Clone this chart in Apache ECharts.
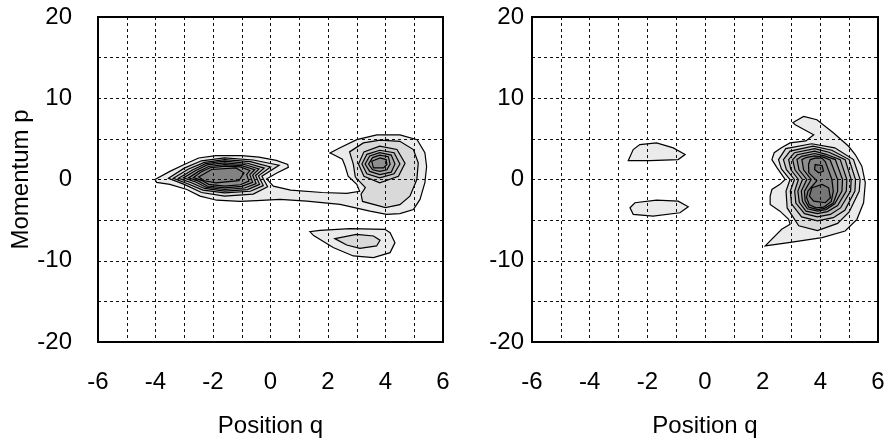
<!DOCTYPE html>
<html><head><meta charset="utf-8">
<script src="https://cdn.jsdelivr.net/npm/echarts@6/dist/echarts.min.js"></script>
<style>html,body{margin:0;padding:0;background:#fff}#c{width:888px;height:443px}</style>
</head><body><div id="c"></div>
<script>
// Axis ticks
const xTicks = [-6, -4, -2, 0, 2, 4, 6];
const yTicks = [-20, -10, 0, 10, 20];
const xTitle = 'Position q';
const yTitle = 'Momentum p';
// Fill for contour level 1 (outermost) .. 9 (innermost)
const levelColors = ['#ebebeb','#d9d9d9','#c8c8c8','#b8b8b8','#a9a9a9','#9b9b9b','#8e8e8e','#828282','#767676'];

// ---------- Left panel: contour vertices [q, p] ----------
// level 1: connected region (left blob + tail + right blob)
const leftOuter = [[-4.02,0.0],[-3.5,1.0],[-3.0,1.85],[-2.5,2.65],[-1.9,2.95],[-1.0,2.95],[-0.4,2.75],[0.2,2.35],[0.6,1.85],[0.62,1.5],[0.22,0.8],[-0.13,0.08],[0.1,-0.82],[0.7,-1.3],[1.8,-1.6],[2.65,-1.7],[3.1,-1.45],[3.0,-0.6],[2.7,0.4],[2.6,1.6],[2.5,2.5],[2.2,3.05],[2.07,3.27],[2.42,3.9],[3.0,4.9],[3.7,5.5],[4.5,5.5],[5.1,4.9],[5.37,3.3],[5.43,1.6],[5.37,-0.4],[5.2,-2.45],[4.97,-3.7],[4.5,-4.2],[4.04,-4.3],[3.46,-3.9],[2.42,-3.07],[1.26,-2.66],[0.33,-2.45],[-0.48,-2.6],[-1.06,-2.7],[-1.87,-2.55],[-2.45,-2.05],[-2.91,-1.23],[-3.5,-0.6],[-3.96,-0.35]];
// left peak, levels 2..8
const leftPeakA = [
  [[-3.55,0.15],[-3.0,1.4],[-2.4,2.3],[-1.6,2.66],[-0.6,2.4],[0.3,1.75],[-0.3,0.4],[-0.1,-0.9],[-0.6,-1.8],[-1.6,-2.05],[-2.4,-1.6],[-3.0,-0.6]],
  [[-3.38,0.15],[-2.85,1.3],[-2.3,2.1],[-1.6,2.45],[-0.7,2.2],[0.0,1.55],[-0.42,0.45],[-0.25,-0.75],[-0.7,-1.45],[-1.6,-1.64],[-2.35,-1.3],[-2.9,-0.5]],
  [[-3.2,0.15],[-2.7,1.2],[-2.25,1.95],[-1.6,2.25],[-0.8,2.0],[-0.22,1.4],[-0.52,0.5],[-0.38,-0.6],[-0.8,-1.25],[-1.6,-1.43],[-2.3,-1.1],[-2.75,-0.4]],
  [[-3.03,0.2],[-2.6,1.1],[-2.2,1.8],[-1.6,2.05],[-0.9,1.85],[-0.4,1.3],[-0.62,0.55],[-0.5,-0.5],[-0.9,-1.05],[-1.6,-1.23],[-2.25,-0.95],[-2.6,-0.3]],
  [[-2.85,0.2],[-2.5,1.0],[-2.15,1.6],[-1.6,1.84],[-1.0,1.7],[-0.55,1.2],[-0.72,0.6],[-0.62,-0.35],[-1.0,-0.85],[-1.6,-1.02],[-2.2,-0.8],[-2.5,-0.2]],
  [[-2.68,0.25],[-2.4,0.95],[-2.1,1.45],[-1.55,1.64],[-1.05,1.55],[-0.72,1.1],[-0.83,0.6],[-0.75,-0.2],[-1.05,-0.65],[-1.6,-0.82],[-2.15,-0.6],[-2.4,-0.1]],
  [[-2.5,0.3],[-2.05,1.23],[-1.2,1.43],[-0.92,0.82],[-1.1,-0.15],[-1.9,-0.41],[-2.3,-0.15]]
];
// right peak, levels 2..7
const leftPeakB = [
  [[2.75,3.4],[3.23,4.5],[3.81,4.85],[4.5,4.7],[4.97,3.68],[5.14,2.05],[5.09,0.0],[4.85,-2.05],[4.5,-3.1],[4.0,-3.45],[3.2,-2.7],[3.15,-1.8],[3.3,-1.0],[2.95,0.3],[2.88,1.9]],
  [[3.06,1.9],[3.25,3.4],[3.8,4.1],[4.4,3.7],[4.68,2.0],[4.45,0.4],[3.8,-0.4],[3.25,0.4]],
  [[3.18,1.9],[3.35,3.1],[3.8,3.6],[4.3,3.3],[4.5,1.9],[4.3,0.7],[3.8,0.2],[3.35,0.7]],
  [[3.29,1.9],[3.45,2.9],[3.8,3.3],[4.2,3.0],[4.33,1.9],[4.2,0.9],[3.8,0.6],[3.45,1.0]],
  [[3.41,1.9],[3.55,2.7],[3.8,3.0],[4.1,2.8],[4.16,1.9],[4.05,1.2],[3.8,1.0],[3.55,1.2]],
  [[3.52,2.25],[3.81,2.66],[4.02,2.45],[4.05,1.84],[3.93,1.43],[3.58,1.43]]
];
// lower island, levels 1..2
const leftIsland = [
  [[1.37,-6.42],[1.5,-6.9],[2.18,-8.38],[2.88,-9.41],[3.58,-9.61],[4.16,-9.0],[4.33,-7.77],[4.16,-6.54],[3.98,-6.13],[2.77,-6.05],[1.72,-6.26]],
  [[2.24,-7.28],[2.99,-6.75],[3.58,-6.95],[3.81,-7.48],[3.69,-8.18],[3.11,-8.47],[2.65,-8.06]]
];

// ---------- Right panel ----------
// two small islands, level 1
const rightIslands = [
  [[-2.66,2.33],[-2.49,3.68],[-2.26,4.29],[-1.68,4.5],[-1.1,3.89],[-0.69,3.07],[-0.93,2.45],[-1.91,2.33]],
  [[-2.6,-3.48],[-2.43,-2.86],[-1.68,-2.54],[-0.93,-2.66],[-0.58,-3.35],[-0.87,-4.09],[-1.8,-4.5],[-2.49,-4.29]]
];
// main blob, levels 1..8
const rightBlob = [
  [[3.13,7.16],[3.42,7.77],[3.88,7.36],[4.46,5.73],[4.98,4.09],[5.21,3.07],[5.44,1.64],[5.56,-0.41],[5.5,-2.86],[5.27,-4.9],[4.86,-6.34],[4.06,-7.16],[2.9,-7.77],[2.09,-8.18],[2.2,-7.77],[2.66,-6.13],[2.95,-5.5],[2.9,-4.9],[2.6,-3.9],[2.26,-3.07],[2.26,-2.05],[2.32,-1.23],[2.6,-0.6],[2.78,0.0],[2.5,1.43],[2.32,2.45],[2.4,3.3],[2.65,3.9],[2.95,4.5],[3.5,4.75],[3.77,5.5],[3.13,6.75],[3.05,7.0]],
  [[2.55,2.45],[2.8,3.8],[3.7,4.4],[4.5,3.9],[5.15,2.45],[5.38,0.0],[5.35,-1.43],[5.0,-4.0],[4.6,-5.4],[3.9,-6.3],[3.25,-5.7],[2.85,-3.5],[2.81,-1.43],[2.95,0.0],[2.65,1.3]],
  [[2.72,2.45],[2.95,3.5],[3.75,4.1],[4.4,3.6],[5.0,2.45],[5.22,0.0],[5.2,-1.43],[4.85,-3.8],[4.45,-4.7],[3.9,-5.1],[3.35,-4.6],[3.0,-3.0],[2.96,-1.43],[3.1,0.0],[2.82,1.25]],
  [[2.9,2.45],[3.1,3.3],[3.8,3.8],[4.3,3.35],[4.86,2.45],[5.07,0.0],[5.05,-1.43],[4.7,-3.5],[4.35,-4.3],[3.9,-4.6],[3.45,-4.2],[3.15,-2.9],[3.11,-1.43],[3.24,0.0],[2.98,1.2]],
  [[3.04,2.45],[3.2,3.05],[3.8,3.5],[4.2,3.1],[4.69,2.45],[4.92,0.0],[4.9,-1.43],[4.6,-3.2],[4.25,-3.95],[3.9,-4.2],[3.5,-3.9],[3.27,-2.8],[3.22,-1.43],[3.38,0.0],[3.12,1.2]],
  [[3.19,2.45],[3.35,2.85],[3.8,3.2],[4.15,2.9],[4.52,2.45],[4.77,0.0],[4.75,-1.43],[4.5,-3.0],[4.2,-3.7],[3.9,-3.9],[3.55,-3.6],[3.38,-2.7],[3.34,-1.43],[3.53,0.0],[3.26,1.2]],
  [[3.36,2.45],[3.5,2.7],[3.8,2.9],[4.1,2.75],[4.34,2.4],[4.6,0.0],[4.6,-1.43],[4.45,-2.9],[4.15,-3.55],[3.9,-3.7],[3.6,-3.4],[3.47,-2.6],[3.45,-1.43],[3.68,0.0],[3.42,1.2]],
  [[3.59,1.84],[3.65,2.45],[3.85,2.66],[4.06,2.62],[4.17,2.2],[4.3,1.0],[4.4,0.0],[4.45,-1.43],[4.38,-2.7],[4.12,-3.4],[3.85,-3.48],[3.62,-3.1],[3.52,-2.2],[3.57,-1.43],[3.88,-0.15],[3.6,0.82]]
];
// two innermost peaks, level 9
const rightPeaks = [
  [[3.82,1.84],[4.06,1.72],[4.11,1.02],[3.94,0.82],[3.8,1.23]],
  [[3.71,-1.02],[4.06,-0.61],[4.29,-1.02],[4.35,-2.25],[4.17,-2.86],[3.77,-2.66],[3.62,-2.05]]
];

function group(rings, firstLevel, sameLevel) {
  return rings.map((r, i) => ({ level: sameLevel ? firstLevel : firstLevel + i, pts: r }));
}
const leftPolys = [{ level: 1, pts: leftOuter }]
  .concat(group(leftPeakA, 2), group(leftPeakB, 2), group(leftIsland, 1))
  .sort((a, b) => a.level - b.level);
const rightPolys = group(rightIslands, 1, true)
  .concat(group(rightBlob, 1), group(rightPeaks, 9, true))
  .sort((a, b) => a.level - b.level);

const FONT = 'Liberation Sans, Arial, sans-serif';
const FS = 24;

function contourSeries(polys, idx) {
  return {
    type: 'custom', xAxisIndex: idx, yAxisIndex: idx, z: 1,
    data: polys.map((p, i) => [p.pts[0][0], p.pts[0][1], i]),
    renderItem: function (params, api) {
      const poly = polys[params.dataIndex];
      return {
        type: 'polygon',
        shape: { points: poly.pts.map(pt => api.coord(pt)) },
        style: { fill: levelColors[poly.level - 1], stroke: '#000', lineWidth: 1.2 }
      };
    }
  };
}
function xAxisDef(gi) {
  return {
    gridIndex: gi, type: 'value', min: xTicks[0], max: xTicks[xTicks.length - 1], interval: 1, z: 5,
    axisLine: { show: false }, axisTick: { show: false },
    axisLabel: { margin: 28, fontSize: FS, fontFamily: FONT, color: '#000',
      formatter: v => (xTicks.indexOf(v) >= 0 ? String(v) : '') },
    splitLine: { show: true, lineStyle: { color: '#111', width: 1, type: [3, 3] } },
    name: xTitle, nameLocation: 'middle', nameGap: 72,
    nameTextStyle: { fontSize: FS, fontFamily: FONT, color: '#000' }
  };
}
function yAxisDef(gi, withName, margin) {
  const a = {
    gridIndex: gi, type: 'value', min: yTicks[0], max: yTicks[yTicks.length - 1], interval: 5, z: 5,
    axisLine: { show: false }, axisTick: { show: false },
    axisLabel: { margin: margin, fontSize: FS, fontFamily: FONT, color: '#000',
      formatter: v => (yTicks.indexOf(v) >= 0 ? String(v) : '') },
    splitLine: { show: true, lineStyle: { color: '#111', width: 1, type: [3, 3] } }
  };
  if (withName) {
    a.name = yTitle; a.nameLocation = 'middle'; a.nameGap = 64;
    a.nameTextStyle = { fontSize: FS, fontFamily: FONT, color: '#000' };
  }
  return a;
}
const chart = echarts.init(document.getElementById('c'), null, { renderer: 'canvas' });
chart.setOption({
  animation: false,
  backgroundColor: '#fff',
  grid: [
    { left: 98, top: 17, width: 345, height: 326, show: true, borderColor: '#000', borderWidth: 2, backgroundColor: 'transparent', z: 6 },
    { left: 532, top: 17, width: 346, height: 326, show: true, borderColor: '#000', borderWidth: 2, backgroundColor: 'transparent', z: 6 }
  ],
  xAxis: [xAxisDef(0), xAxisDef(1)],
  yAxis: [yAxisDef(0, true, 26), yAxisDef(1, false, 8)],
  series: [contourSeries(leftPolys, 0), contourSeries(rightPolys, 1)]
});
</script></body></html>
